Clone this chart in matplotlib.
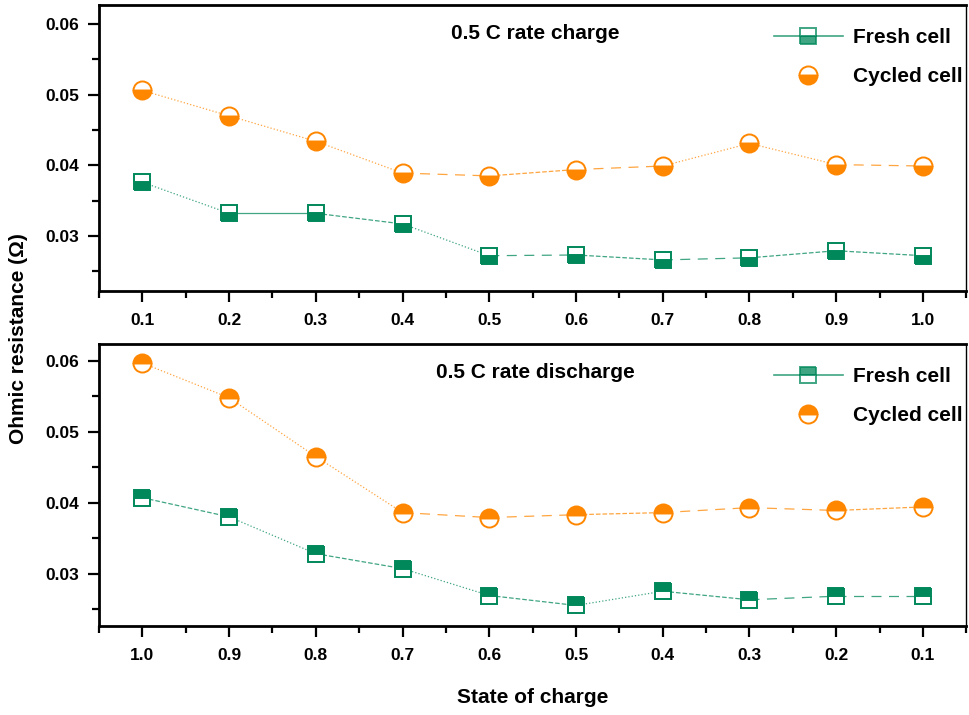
import matplotlib
matplotlib.use('Agg')
import matplotlib.pyplot as plt
from matplotlib.ticker import MultipleLocator, FormatStrFormatter
from matplotlib.lines import Line2D

soc = [0.1, 0.2, 0.3, 0.4, 0.5, 0.6, 0.7, 0.8, 0.9, 1.0]
soc_dis = [1.0, 0.9, 0.8, 0.7, 0.6, 0.5, 0.4, 0.3, 0.2, 0.1]

charge_fresh = [0.0376, 0.0332, 0.0332, 0.0317, 0.0272, 0.0273, 0.0266, 0.0269, 0.0279, 0.0272]
charge_cycled = [0.0506, 0.0470, 0.0434, 0.0389, 0.0385, 0.0394, 0.0399, 0.0431, 0.0401, 0.0399]
dis_fresh = [0.0407, 0.0380, 0.0328, 0.0307, 0.0269, 0.0255, 0.0275, 0.0263, 0.0268, 0.0268]
dis_cycled = [0.0597, 0.0548, 0.0465, 0.0386, 0.0379, 0.0383, 0.0386, 0.0393, 0.0389, 0.0394]

GREEN = '#00875a'
ORANGE = '#ff8700'

# segment styles, the original lines look broken up differently between points
seg_styles = {
    'cf': [':', '-', '--', ':', (0, (8, 6)), '--', (0, (8, 6)), '--', '--'],
    'cc': [':', ':', ':', (0, (8, 6)), '--', (0, (8, 6)), ':', ':', (0, (8, 6))],
    'df': ['--', ':', '--', ':', '--', ':', '--', (0, (8, 6)), (0, (8, 6))],
    'dc': [':', ':', ':', (0, (8, 6)), (0, (8, 6)), '--', (0, (8, 6)), (0, (8, 6)), '--'],
}

plt.rcParams['font.family'] = ['Liberation Sans', 'DejaVu Sans']
plt.rcParams['font.weight'] = 'bold'

fig = plt.figure(figsize=(9.69, 7.15), dpi=100)
ax1 = fig.add_axes([0.1022, 0.593, 0.895, 0.400])
ax2 = fig.add_axes([0.1022, 0.1245, 0.895, 0.3945])


def draw_series(ax, x, y, color, styles):
    for i in range(len(x) - 1):
        ax.plot(x[i:i + 2], y[i:i + 2], color=color, lw=0.9, alpha=0.75,
                linestyle=styles[i], zorder=2)


def draw_markers(ax, x, y, color, marker, fill, size):
    ax.plot(x, y, linestyle='none', marker=marker, markersize=size,
            markerfacecolor=color, markerfacecoloralt='white',
            markeredgecolor=color, markeredgewidth=1.4,
            fillstyle=fill, zorder=3)


draw_series(ax1, soc, charge_fresh, GREEN, seg_styles['cf'])
draw_series(ax1, soc, charge_cycled, ORANGE, seg_styles['cc'])
draw_markers(ax1, soc, charge_fresh, GREEN, 's', 'bottom', 12)
draw_markers(ax1, soc, charge_cycled, ORANGE, 'o', 'bottom', 13)

draw_series(ax2, soc_dis, dis_fresh, GREEN, seg_styles['df'])
draw_series(ax2, soc_dis, dis_cycled, ORANGE, seg_styles['dc'])
draw_markers(ax2, soc_dis, dis_fresh, GREEN, 's', 'top', 12)
draw_markers(ax2, soc_dis, dis_cycled, ORANGE, 'o', 'top', 13)

ax1.set_xlim(0.05, 1.05)
ax2.set_xlim(1.05, 0.05)
ax1.set_ylim(0.0222, 0.0627)
ax2.set_ylim(0.0226, 0.0624)

for ax, fill, title in [(ax1, 'bottom', '0.5 C rate charge'),
                        (ax2, 'top', '0.5 C rate discharge')]:
    ax.xaxis.set_major_locator(MultipleLocator(0.1))
    ax.xaxis.set_minor_locator(MultipleLocator(0.05))
    ax.yaxis.set_major_locator(MultipleLocator(0.01))
    ax.yaxis.set_minor_locator(MultipleLocator(0.005))
    ax.xaxis.set_major_formatter(FormatStrFormatter('%.1f'))
    ax.yaxis.set_major_formatter(FormatStrFormatter('%.2f'))
    ax.tick_params(which='major', direction='out', length=8, width=1.6,
                   labelsize=12.5, pad=8)
    ax.tick_params(which='minor', direction='out', length=5, width=1.6)
    ax.tick_params(axis='y', which='major', pad=6)
    for lab in ax.get_xticklabels() + ax.get_yticklabels():
        lab.set_fontweight('bold')
    for s in ['left', 'bottom', 'top']:
        ax.spines[s].set_linewidth(2.0)
    ax.spines['right'].set_linewidth(1.0)
    ax.text(0.503, 0.9, title, transform=ax.transAxes, ha='center',
            va='center', fontsize=15, fontweight='bold')

    handles = [
        Line2D([], [], color=GREEN, lw=1.2, alpha=0.75, marker='s',
               markersize=12, markerfacecolor=GREEN, markerfacecoloralt='white',
               markeredgecolor=GREEN, markeredgewidth=1.4, fillstyle=fill),
        Line2D([], [], linestyle='none', marker='o', markersize=13,
               markerfacecolor=ORANGE, markerfacecoloralt='white',
               markeredgecolor=ORANGE, markeredgewidth=1.4, fillstyle=fill),
    ]
    ax.legend(handles, ['Fresh cell', 'Cycled cell'], loc='upper right',
              bbox_to_anchor=(1.008, 0.955), frameon=False,
              prop={'weight': 'bold', 'size': 15}, handlelength=3.3,
              handletextpad=0.5, labelspacing=0.95, borderaxespad=0.1)

fig.text(0.019, 0.527, 'Ohmic resistance (Ω)', rotation=90, ha='center',
         va='center', fontsize=15, fontweight='bold')
fig.text(0.55, 0.025, 'State of charge', ha='center', va='center',
         fontsize=15, fontweight='bold')

fig.savefig('out.png', dpi=100)
